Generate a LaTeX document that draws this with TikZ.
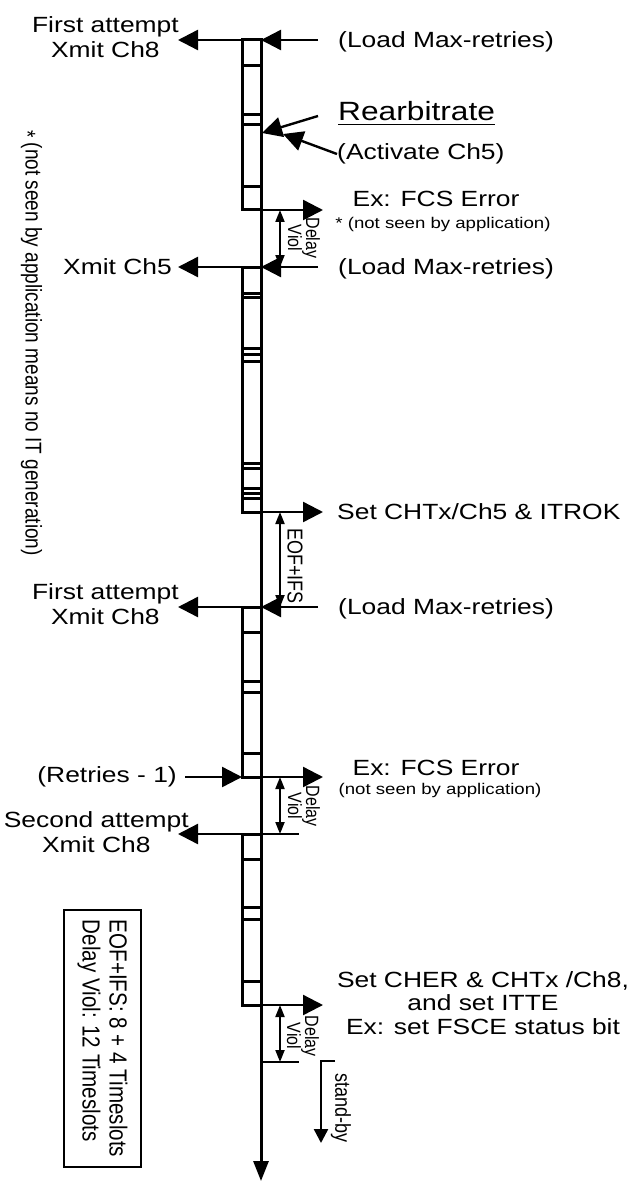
\documentclass[tikz,border=0pt]{standalone}
\usepackage{fontspec}
\setmainfont{Liberation Sans}
\usetikzlibrary{arrows.meta, calc}

\newcommand{\lblfont}{\fontsize{22}{25}\selectfont}
\newcommand{\bigfont}{\fontsize{26.4}{28}\selectfont}
\newcommand{\evsmallfont}{\fontsize{15.5}{17}\selectfont}
\newcommand{\spanfont}{\fontsize{16}{15}\selectfont}
\newcommand{\eoffont}{\fontsize{18}{20}\selectfont}
\newcommand{\notefont}{\fontsize{19}{21}\selectfont}
\newcommand{\legendfont}{\fontsize{20.6}{22.5}\selectfont}

\begin{document}
\begin{tikzpicture}[
    x=1pt, y=-1pt,
    timeline/.style={line width=3pt},
    slotbar/.style={line width=3pt},
    evarrow/.style={-{Triangle[length=20pt, width=20pt]}, line width=2.4pt},
    spanarrow/.style={{Triangle[length=12pt, width=9pt]}-{Triangle[length=12pt, width=9pt]}, line width=2pt},
    plainline/.style={line width=2.4pt},
    evtext/.style={font=\lblfont, inner sep=0pt, xscale=1.2},
    subtext/.style={font=\evsmallfont, inner sep=0pt, xscale=1.2},
    spantext/.style={font=\spanfont, inner sep=0pt, align=center, xscale=1.2, rotate=-90},
    notebox/.style={draw, line width=2.4pt, font=\legendfont, align=left, inner sep=0pt,
                    xscale=1.2, rotate=-90, minimum width=257pt, minimum height=64pt},
  ]
    \useasboundingbox (0,0) rectangle (636,1182);

    % --- Event points on the time line ---
    \coordinate (e1) at (261,40);
    \coordinate (e2) at (261,210);
    \coordinate (e3) at (261,267);
    \coordinate (e4) at (261,512);
    \coordinate (e5) at (261,607);
    \coordinate (e6) at (261,777);
    \coordinate (e7) at (261,834);
    \coordinate (e8) at (261,1005);
    \coordinate (e9) at (261,1062);
    \coordinate (tail) at (261,1181);

    % --- Frames (slot bars) ---
    \foreach \t/\b in {40/210, 267/512, 607/777, 834/1005} {
      \draw[slotbar] (242,\t) rectangle (261,\b);
    }
    \foreach \y in {66,115,125,187,293,297,348,354,361,463,468,488,493,498,632,681,692,753,859,907,919,981} {
      \draw[slotbar] (242,\y) -- (261,\y);
    }

    % --- Time line ---
    \draw[timeline, -{Triangle[length=20pt, width=15pt]}] (e1) -- (tail);

    % --- Left side labels ---
    \node[evtext, align=center, anchor=east] (first1) at (179,37) {First attempt\\Xmit Ch8};
    \node[evtext, anchor=east] (xmit5) at (172,267) {Xmit Ch5};
    \node[evtext, align=center, anchor=east] (first2) at (179,604) {First attempt\\Xmit Ch8};
    \node[evtext, anchor=east] (retries) at (177,777) {(Retries - 1)};
    \node[evtext, align=center, anchor=east] (second) at (189,832) {Second attempt\\Xmit Ch8};

    % --- Right side labels ---
    \node[evtext, anchor=west] (load1) at (338,42) {(Load Max-retries)};
    \node[font=\bigfont, inner sep=0pt, xscale=1.2, anchor=base west] (rearb) at (338,121) {Rearbitrate};
    \node[evtext, anchor=west] (act5) at (337,154) {(Activate Ch5)};
    \node[evtext, anchor=base] (fcs1) at (436,207) {Ex: FCS Error};
    \node[subtext] (nsa1) at (443,224) {* (not seen by application)};
    \node[evtext, anchor=west] (load2) at (338,269) {(Load Max-retries)};
    \node[evtext, anchor=west] (itrok) at (337,512) {Set CHTx/Ch5 \& ITROK};
    \node[evtext, anchor=west] (load3) at (338,609) {(Load Max-retries)};
    \node[evtext, anchor=base] (fcs2) at (436,775) {Ex: FCS Error};
    \node[subtext] (nsa2) at (440,790) {(not seen by application)};
    \node[evtext, align=center, font=\fontsize{22}{23.5}\selectfont] (cher) at (483,1003)
      {Set CHER \& CHTx /Ch8,\\and set ITTE\\Ex: set FSCE status bit};

    % underline of Rearbitrate
    \draw[line width=1.8pt] ([yshift=-3.5pt]rearb.base west) -- ([yshift=-3.5pt]rearb.base east);

    % --- Span labels ---
    \node[spantext] (dv1) at (304,238) {Delay\\Viol};
    \node[spantext, font=\eoffont] (eof) at (295,566) {EOF+IFS};
    \node[spantext] (dv2) at (304,806) {Delay\\Viol};
    \node[spantext] (dv3) at (303,1036) {Delay\\Viol};
    \node[spantext, font=\eoffont] (stby) at (341,1108) {stand-by};

    % --- Notes ---
    \node[evtext, font=\notefont, rotate=-90] (nsnote) at (31,343)
      {\raisebox{-5pt}{*} (not seen by application means no IT generation)};
    \node[notebox] (legend) at (102.5,1038.5) {EOF+IFS: 8 + 4 Timeslots\\Delay Viol: 12 Timeslots};

    % --- Transmit arrows (out, left) ---
    \draw[evarrow] (e1) -- ++(-83,0);
    \draw[evarrow] (e3) -- ++(-83,0);
    \draw[evarrow] (e5) -- ++(-83,0);
    \draw[evarrow] (e7) -- ++(-83,0);

    % --- Load arrows (in, from right) ---
    \draw[evarrow] ([xshift=57pt]e1) -- (e1);
    \draw[evarrow] ([xshift=57pt]e3) -- (e3);
    \draw[evarrow] ([xshift=57pt]e5) -- (e5);

    % --- Status arrows (out, right) ---
    \draw[evarrow] (e2) -- ++(62,0);
    \draw[evarrow] (e4) -- ++(62,0);
    \draw[evarrow] (e6) -- ++(62,0);
    \draw[evarrow] (e8) -- ++(62,0);

    % Rearbitrate
    \coordinate (rbtail) at (318,116);
    \coordinate (rbhead) at (262,133);
    \coordinate (achead) at (283,134);
    \draw[evarrow] (rbtail) -- (rbhead);
    \draw[evarrow] (act5.west) -- (achead);

    % Retries
    \draw[evarrow] ([xshift=8pt]retries.east) -- (242,777);

    % --- Spans ---
    \draw[spanarrow] ($(e2)+(19,0)$) -- ($(e3)+(19,0)$);
    \draw[spanarrow] ($(e4)+(19,0)$) -- ($(e5)+(19,0)$);
    \draw[spanarrow] ($(e6)+(19,0)$) -- ($(e7)+(19,0)$);
    \draw[spanarrow] ($(e8)+(19,0)$) -- ($(e9)+(19,0)$);
    \draw[plainline] (e7) -- ++(38,0);
    \draw[plainline] (e9) -- ++(38,0);

    % stand-by
    \draw[plainline, -{Triangle[length=14pt, width=14pt]}] (335,1061) -- (321,1061) -- (321,1143);
\end{tikzpicture}
\end{document}
